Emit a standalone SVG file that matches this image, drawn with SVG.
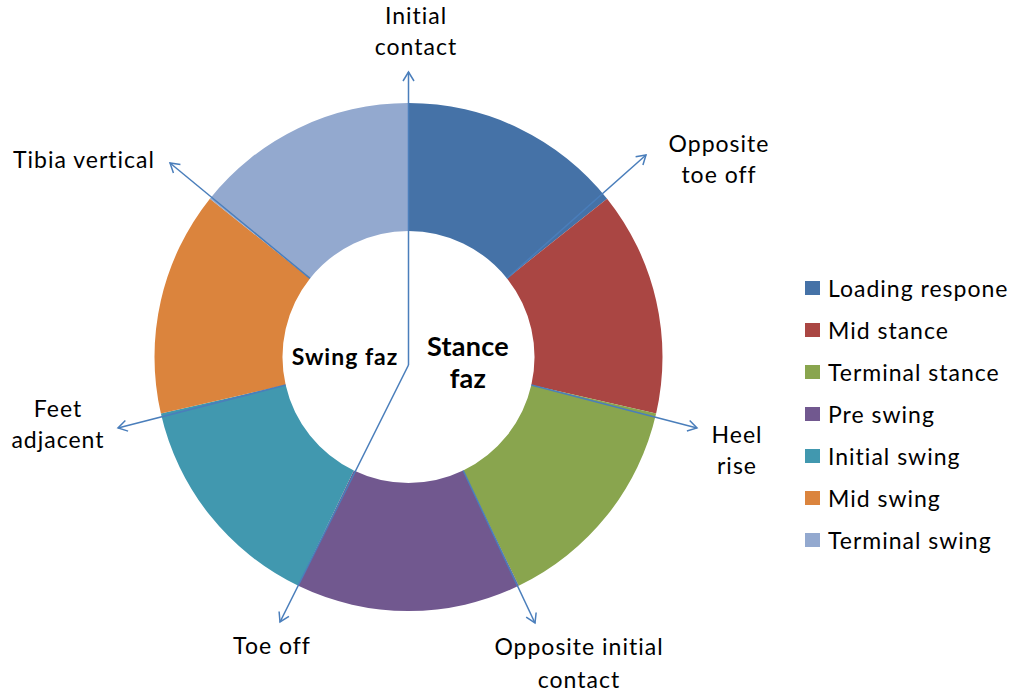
<svg xmlns="http://www.w3.org/2000/svg" width="1016" height="697" viewBox="0 0 1016 697">
<style>
text{font-family:Lato,"Open Sans","Liberation Sans",sans-serif;font-size:23px;letter-spacing:1px;fill:#000}
.c{text-anchor:middle}
.b{font-weight:bold}
.conn line{stroke:#4A7EBB;stroke-width:1.5;fill:none}
</style>
<defs>
<marker id="ah" markerUnits="userSpaceOnUse" markerWidth="14" markerHeight="14" viewBox="0 0 14 14" refX="12" refY="7" orient="auto">
<path d="M3,1.5 L12,7 L3,12.5" fill="none" stroke="#4A7EBB" stroke-width="1.5"/>
</marker>
</defs>
<rect width="1016" height="697" fill="#fff"/>
<g id="ring">
<path id="seg-loading" fill="#4572A7" d="M408.5,103 A254,254 0 0 1 607.09,198.63 L507.01,278.44 A126,126 0 0 0 408.5,231 Z"/>
<path id="seg-midstance" fill="#AA4643" d="M607.09,198.63 A254,254 0 0 1 656.13,413.52 L531.34,385.04 A126,126 0 0 0 507.01,278.44 Z"/>
<path id="seg-terminalstance" fill="#89A54E" d="M656.13,413.52 A254,254 0 0 1 518.71,585.85 L463.17,470.52 A126,126 0 0 0 531.34,385.04 Z"/>
<path id="seg-preswing" fill="#71588F" d="M518.71,585.85 A254,254 0 0 1 298.29,585.85 L353.83,470.52 A126,126 0 0 0 463.17,470.52 Z"/>
<path id="seg-initialswing" fill="#4198AF" d="M298.29,585.85 A254,254 0 0 1 160.87,413.52 L285.66,385.04 A126,126 0 0 0 353.83,470.52 Z"/>
<path id="seg-midswing" fill="#DB843D" d="M160.87,413.52 A254,254 0 0 1 209.91,198.63 L309.99,278.44 A126,126 0 0 0 285.66,385.04 Z"/>
<path id="seg-terminalswing" fill="#93A9CF" d="M209.91,198.63 A254,254 0 0 1 408.5,103 L408.5,231 A126,126 0 0 0 309.99,278.44 Z"/>
</g>
<g id="connectors" class="conn">
<line x1="408.5" y1="365" x2="408.5" y2="72" marker-end="url(#ah)"/>
<line x1="507" y1="278.4" x2="646" y2="155" marker-end="url(#ah)"/>
<line x1="531.3" y1="385" x2="697" y2="428" marker-end="url(#ah)"/>
<line x1="463.2" y1="470.5" x2="535" y2="623" marker-end="url(#ah)"/>
<line x1="408.5" y1="365" x2="280" y2="622" marker-end="url(#ah)"/>
<line x1="285.7" y1="385" x2="118" y2="428" marker-end="url(#ah)"/>
<line x1="310" y1="278.4" x2="170" y2="163" marker-end="url(#ah)"/>
</g>
<g id="label-initial-contact"><text class="c" x="416" y="24">Initial</text><text class="c" x="416" y="55">contact</text></g>
<g id="label-opposite-toe-off"><text class="c" x="719" y="152">Opposite</text><text class="c" x="719" y="183">toe off</text></g>
<g id="label-heel-rise"><text class="c" x="737" y="443">Heel</text><text class="c" x="737" y="474">rise</text></g>
<g id="label-opposite-initial-contact"><text class="c" x="579" y="655">Opposite initial</text><text class="c" x="579" y="688">contact</text></g>
<g id="label-toe-off"><text class="c" x="272" y="654">Toe off</text></g>
<g id="label-feet-adjacent"><text class="c" x="58" y="417">Feet</text><text class="c" x="58" y="448">adjacent</text></g>
<g id="label-tibia-vertical"><text class="c" x="84" y="168">Tibia vertical</text></g>
<g id="label-swing"><text class="c b" x="345" y="365" style="font-size:23px;letter-spacing:1px">Swing faz</text></g>
<g id="label-stance"><text class="c b" x="468" y="356" style="font-size:27px;letter-spacing:0.3px">Stance</text><text class="c b" x="468" y="388" style="font-size:27px;letter-spacing:0.3px">faz</text></g>
<g id="legend">
<rect x="805" y="281" width="15" height="14" fill="#4572A7"/><text x="828" y="297">Loading respone</text>
<rect x="805" y="323" width="15" height="14" fill="#AA4643"/><text x="828" y="339">Mid stance</text>
<rect x="805" y="365" width="15" height="14" fill="#89A54E"/><text x="828" y="381">Terminal stance</text>
<rect x="805" y="407" width="15" height="14" fill="#71588F"/><text x="828" y="423">Pre swing</text>
<rect x="805" y="449" width="15" height="14" fill="#4198AF"/><text x="828" y="465">Initial swing</text>
<rect x="805" y="491" width="15" height="14" fill="#DB843D"/><text x="828" y="507">Mid swing</text>
<rect x="805" y="533" width="15" height="14" fill="#93A9CF"/><text x="828" y="549">Terminal swing</text>
</g>
</svg>
